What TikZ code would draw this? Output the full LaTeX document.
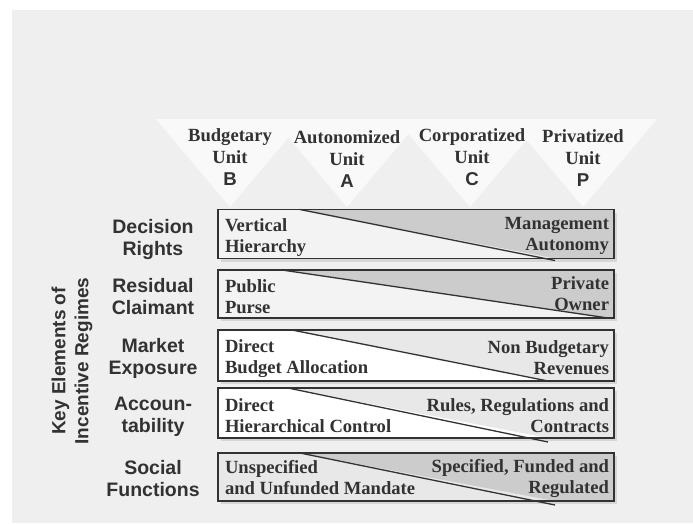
\documentclass[tikz,border=0pt]{standalone}
\usepackage{fontspec}
\setmainfont{Liberation Serif}
\setsansfont{Liberation Sans}
\usetikzlibrary{positioning,calc,shadows}
\definecolor{PageGray}{RGB}{239,239,239}
\definecolor{TriWhite}{RGB}{249,249,249}
\definecolor{InkGray}{RGB}{50,50,50}
\definecolor{ShadeDark}{RGB}{204,204,204}
\definecolor{ShadeLight}{RGB}{232,232,232}
\definecolor{LeftPale}{RGB}{243,243,243}
\definecolor{ShadowGray}{RGB}{214,214,214}

\begin{document}
\begin{tikzpicture}[x=1pt, y=-1pt, every node/.style={text=InkGray, inner sep=0pt, outer sep=0pt},
  regbox/.style={minimum width=396pt, minimum height=49pt,
                 drop shadow={shadow xshift=3pt, shadow yshift=-3pt, fill=ShadowGray, opacity=1}},
  frame/.style={draw=InkGray, line width=1.6pt},
  diag/.style={draw=InkGray, line width=1.3pt},
  boxtext/.style={font=\fontsize{18.6}{21}\selectfont\bfseries},
  rowlab/.style={font=\sffamily\bfseries\fontsize{19.5}{22}\selectfont, align=center},
  unitlab/.style={font=\fontsize{18.6}{22}\selectfont\bfseries, align=center}]
  \useasboundingbox (0,0) rectangle (693,523);
  \fill[PageGray] (12,10) rectangle (693,523);

  % the four regimes along the top
  \foreach \ax in {230,347,470,583}
    \fill[TriWhite] (\ax-74,119) -- (\ax+74,119) -- (\ax,207) -- cycle;
  \node[unitlab] (ub) at (230,157) {Budgetary\\Unit\\{\sffamily B}};
  \node[unitlab] (ua) at (347,159) {Autonomized\\Unit\\{\sffamily A}};
  \node[unitlab] (uc) at (472,157) {Corporatized\\Unit\\{\sffamily C}};
  \node[unitlab] (up) at (583,158) {Privatized\\Unit\\{\sffamily P}};

  % rows
  \node[regbox, fill=LeftPale] (dr) at (416,234) {};
  \node[regbox, fill=LeftPale, minimum height=48pt] (rc) at (416,294) {};
  \node[regbox, fill=white, minimum height=51pt] (me) at (416,355.5) {};
  \node[regbox, fill=white, minimum height=50pt] (ac) at (416,413) {};
  \node[regbox, fill=ShadeLight, minimum height=48pt] (sf) at (416,477) {};

  \fill[ShadeDark] ($(dr.north west)+(82,0)$) -- (dr.north east) -- (dr.south east) -- ($(dr.south west)+(337,0)$) -- cycle;
  \fill[ShadeDark] ($(rc.north west)+(64,0)$) -- (rc.north east) -- (rc.south east) -- ($(rc.south west)+(390,0)$) -- cycle;
  \fill[ShadeLight] ($(me.north west)+(74,0)$) -- (me.north east) -- (me.south east) -- ($(me.south west)+(330,0)$) -- cycle;
  \fill[ShadeLight] ($(ac.north west)+(70,0)$) -- (ac.north east) -- (ac.south east) -- ($(ac.south west)+(330,0)$) -- cycle;
  \fill[ShadeDark] ($(sf.north west)+(82,0)$) -- (sf.north east) -- (sf.south east) -- ($(sf.south west)+(337,0)$) -- cycle;

  \draw[diag] ($(dr.north west)+(82,0)$) -- ($(dr.south west)+(337,2)$);
  \draw[diag] ($(rc.north west)+(64,0)$) -- ($(rc.south west)+(390,0)$);
  \draw[diag] ($(me.north west)+(74,0)$) -- ($(me.south west)+(330,0)$);
  \draw[diag] ($(ac.north west)+(70,0)$) -- ($(ac.south west)+(330,4)$);
  \draw[diag] ($(sf.north west)+(82,0)$) -- ($(sf.south west)+(337,4)$);

  \foreach \b in {dr,rc,me,ac,sf}
    \draw[frame] (\b.north west) rectangle (\b.south east);

  \node[boxtext, align=left, anchor=west] (drl) at ($(dr.west)+(7,4)$) {Vertical\\Hierarchy};
  \node[boxtext, align=right, anchor=east] (drr) at ($(dr.east)+(-5,2)$) {Management\\Autonomy};
  \node[boxtext, align=left, anchor=west] (rcl) at ($(rc.west)+(7,3)$) {Public\\Purse};
  \node[boxtext, align=right, anchor=east] (rcr) at ($(rc.east)+(-5,0)$) {Private\\Owner};
  \node[boxtext, align=left, anchor=west] (mel) at ($(me.west)+(7,3)$) {Direct\\Budget Allocation};
  \node[boxtext, align=right, anchor=east] (mer) at ($(me.east)+(-5,2)$) {Non Budgetary\\Revenues};
  \node[boxtext, align=left, anchor=west] (acl) at ($(ac.west)+(7,3)$) {Direct\\Hierarchical Control};
  \node[boxtext, align=right, anchor=east] (acr) at ($(ac.east)+(-5,3)$) {Rules, Regulations and\\Contracts};
  \node[boxtext, align=left, anchor=west] (sfl) at ($(sf.west)+(7,1)$) {Unspecified\\and Unfunded Mandate};
  \node[boxtext, align=right, anchor=east] (sfr) at ($(sf.east)+(-5,1)$) {Specified, Funded and\\Regulated};

  % row names
  \node[rowlab] (drn) at (153,239) {Decision\\Rights};
  \node[rowlab] (rcn) at (153,297) {Residual\\Claimant};
  \node[rowlab] (men) at (153,358) {Market\\Exposure};
  \node[rowlab] (acn) at (153,417) {Accoun-\\tability};
  \node[rowlab] (sfn) at (153,479) {Social\\Functions};
  \node[rowlab, rotate=90, font=\sffamily\bfseries\fontsize{19}{23}\selectfont] (keyel) at (72,361) {Key Elements of\\Incentive Regimes};
\end{tikzpicture}
\end{document}
